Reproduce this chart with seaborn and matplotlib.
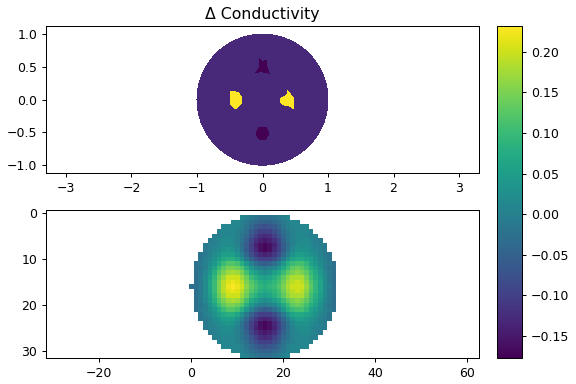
import numpy as np
import matplotlib
matplotlib.use('Agg')
import matplotlib.pyplot as plt
from matplotlib.patches import Circle
import seaborn as sns

# Bottom panel: reconstructed image, one list per row, in units of 0.01
row_index = list(range(1, 32))
first_col = [11, 9, 7, 6, 5, 4, 3, 3, 2, 2, 1, 1, 1, 1, 1, 0,
             1, 1, 1, 1, 1, 2, 2, 3, 3, 4, 5, 6, 7, 9, 11]
cells = [
    [1, 0, -1, -2, -3, -3, -3, -2, -1, 0, 1],
    [1, 1, 0, -1, -3, -4, -5, -5, -5, -4, -3, -1, 0, 1, 1],
    [1, 1, 1, 1, 0, -2, -4, -6, -7, -8, -7, -6, -4, -2, 0, 1, 1, 1, 1],
    [0, 1, 1, 1, 0, -1, -3, -6, -8, -10, -10, -10, -8, -6, -3, -1, 0, 1, 1, 1, 0],
    [0, 0, 1, 1, 1, 0, -2, -4, -7, -10, -12, -13, -12, -10, -7, -4, -2, 0, 1, 1, 1, 0, 0],
    [-1, 0, 1, 2, 2, 1, 0, -2, -5, -9, -12, -14, -15, -14, -12, -9, -5, -2, 0, 1, 2, 2, 1, 0, -1],
    [-1, 0, 0, 1, 2, 2, 2, 0, -3, -6, -10, -14, -16, -17, -16, -14, -10, -6, -3, 0, 2, 2, 2, 1, 0, 0, -1],
    [-1, 0, 1, 2, 3, 4, 3, 1, -2, -6, -10, -13, -16, -17, -16, -13, -10, -6, -2, 1, 3, 3, 3, 2, 1, 0, -1],
    [-2, -1, 0, 2, 3, 5, 5, 5, 3, 0, -4, -8, -11, -13, -14, -13, -11, -8, -4, 0, 3, 5, 5, 4, 3, 2, 0, -1, -2],
    [-2, 0, 1, 3, 5, 7, 8, 8, 6, 3, -1, -5, -8, -10, -10, -10, -8, -5, -1, 3, 6, 7, 7, 6, 5, 3, 1, 0, -2],
    [-3, -1, 0, 2, 4, 7, 10, 12, 12, 11, 8, 4, 0, -3, -5, -6, -5, -3, 0, 4, 8, 10, 11, 11, 9, 6, 4, 2, 0, -1, -3],
    [-3, -2, 0, 3, 6, 10, 13, 15, 15, 14, 12, 8, 4, 1, 0, -1, 0, 1, 4, 7, 10, 13, 14, 13, 11, 8, 6, 3, 0, -2, -3],
    [-3, -1, 1, 4, 8, 12, 15, 17, 18, 17, 15, 11, 7, 5, 3, 2, 3, 5, 7, 10, 13, 15, 16, 15, 13, 10, 7, 4, 1, -1, -3],
    [-3, -1, 2, 5, 9, 14, 17, 20, 20, 20, 17, 14, 10, 8, 6, 5, 6, 8, 10, 13, 16, 18, 18, 18, 15, 11, 8, 5, 2, -1, -3],
    [-3, -1, 2, 6, 10, 15, 19, 21, 22, 21, 19, 15, 12, 10, 8, 7, 8, 9, 11, 14, 17, 19, 20, 19, 16, 12, 9, 6, 2, -1, -3],
    [-3, -3, -1, 2, 6, 10, 15, 19, 22, 23, 22, 20, 16, 13, 11, 9, 8, 9, 10, 12, 15, 18, 20, 20, 20, 17, 13, 9, 6, 2, 0, -3],
    [-3, -1, 2, 6, 10, 15, 19, 21, 22, 21, 19, 15, 12, 10, 8, 7, 8, 9, 11, 14, 17, 19, 20, 19, 16, 12, 9, 6, 2, -1, -3],
    [-3, -1, 2, 5, 9, 14, 17, 20, 20, 20, 17, 14, 10, 8, 6, 5, 6, 8, 10, 13, 16, 18, 18, 18, 15, 11, 8, 5, 2, -1, -3],
    [-3, -1, 1, 4, 8, 12, 15, 17, 18, 17, 15, 11, 7, 5, 3, 2, 3, 5, 7, 10, 13, 15, 16, 15, 13, 10, 7, 4, 1, -1, -3],
    [-3, -2, 0, 3, 6, 10, 13, 15, 15, 14, 12, 8, 4, 1, 0, -1, 0, 1, 4, 7, 10, 13, 14, 13, 11, 8, 6, 3, 0, -2, -3],
    [-3, -1, 0, 2, 4, 7, 10, 12, 12, 11, 8, 4, 0, -3, -5, -6, -5, -3, 0, 4, 8, 10, 11, 11, 9, 6, 4, 2, 0, -1, -3],
    [-2, 0, 1, 3, 5, 7, 8, 8, 6, 3, -1, -5, -8, -10, -10, -10, -8, -5, -1, 3, 6, 7, 7, 6, 5, 3, 1, 0, -2],
    [-2, -1, 0, 2, 3, 5, 5, 5, 3, 0, -4, -8, -11, -13, -14, -13, -11, -8, -4, 0, 3, 5, 5, 4, 3, 2, 0, -1, -2],
    [-1, 0, 1, 2, 3, 4, 3, 1, -2, -6, -10, -13, -16, -17, -16, -13, -10, -6, -2, 1, 3, 3, 3, 2, 1, 0, -1],
    [-1, 0, 0, 1, 2, 2, 2, 0, -3, -6, -10, -14, -16, -17, -16, -14, -10, -6, -3, 0, 2, 2, 2, 1, 0, 0, -1],
    [-1, 0, 1, 2, 2, 1, 0, -2, -5, -9, -12, -14, -15, -14, -12, -9, -5, -2, 0, 1, 2, 2, 1, 0, -1],
    [0, 0, 1, 1, 1, 0, -2, -4, -7, -10, -12, -13, -12, -10, -7, -4, -2, 0, 1, 1, 1, 0, 0],
    [0, 1, 1, 1, 0, -1, -3, -6, -8, -10, -10, -10, -8, -6, -3, -1, 0, 1, 1, 1, 0],
    [1, 1, 1, 1, 0, -2, -4, -6, -7, -8, -7, -6, -4, -2, 0, 1, 1, 1, 1],
    [1, 1, 0, -1, -3, -4, -5, -5, -5, -4, -3, -1, 0, 1, 1],
    [1, 0, -1, -2, -3, -3, -3, -2, -1, 0, 1],
]

# Top panel: conductivity of the disc and the four inclusions
disc_radius = 1.0
disc_value = -0.13
low_value = -0.177
high_value = 0.2316
north_x = [-0.10, -0.05, -0.05, 0.0, 0.055, 0.07, 0.10, -0.015]
north_y = [0.415, 0.48, 0.635, 0.57, 0.60, 0.48, 0.405, 0.43]
south_x = [-0.085, -0.05, 0.05, 0.085, 0.085, 0.045, -0.05, -0.085]
south_y = [-0.486, -0.42, -0.42, -0.486, -0.547, -0.603, -0.603, -0.547]
west_x = [-0.495, -0.385, -0.315, -0.315, -0.415, -0.495]
west_y = [0.125, 0.115, 0.04, -0.055, -0.14, -0.055]
east_x = [0.28, 0.38, 0.38, 0.48, 0.48, 0.41, 0.33, 0.28]
east_y = [0.02, 0.075, 0.14, 0.01, -0.14, -0.095, -0.08, -0.045]

top_xticks = [-3, -2, -1, 0, 1, 2, 3]
top_yticks = [-1.0, -0.5, 0.0, 0.5, 1.0]
bottom_xticks = [-20, 0, 20, 40, 60]
bottom_yticks = [0, 10, 20, 30]
cbar_ticks = [-0.15, -0.10, -0.05, 0.00, 0.05, 0.10, 0.15, 0.20]

grid = np.full((32, 32), np.nan)
for r, c0, vals in zip(row_index, first_col, cells):
    grid[r, c0:c0 + len(vals)] = np.array(vals) / 100

fig = plt.figure(figsize=(6.4, 384 / 90), dpi=90)
ax1 = fig.add_axes([46 / 576, 1 - 173 / 384, 433 / 576, 147 / 384])
ax2 = fig.add_axes([46 / 576, 1 - 358 / 384, 433 / 576, 148 / 384])
cax = fig.add_axes([497 / 576, 1 - 358 / 384, 25 / 576, 332 / 384])

cmap = plt.get_cmap('viridis')
norm = plt.Normalize(low_value, high_value)

# Top panel
ax1.add_patch(Circle((0, 0), disc_radius, color=cmap(norm(disc_value)), antialiased=False, lw=0))
ax1.fill(north_x, north_y, color=cmap(norm(low_value)), antialiased=False, lw=0)
ax1.fill(south_x, south_y, color=cmap(norm(low_value)), antialiased=False, lw=0)
ax1.fill(west_x, west_y, color=cmap(norm(high_value)), antialiased=False, lw=0)
ax1.fill(east_x, east_y, color=cmap(norm(high_value)), antialiased=False, lw=0)
ax1.set_xlim(-3.305, 3.305)
ax1.set_ylim(-1.12, 1.125)
ax1.set_xticks(top_xticks)
ax1.set_yticks(top_yticks)
ax1.set_title('Δ Conductivity', fontsize=12.6)

# Bottom panel
sns.heatmap(grid, mask=np.isnan(grid), cmap='viridis', vmin=low_value, vmax=high_value,
            ax=ax2, cbar_ax=cax, cbar_kws={'ticks': cbar_ticks},
            xticklabels=False, yticklabels=False)
for side in ax2.spines.values():
    side.set_visible(True)
ax2.set_xlim(-31.1, 63.0)
ax2.set_ylim(32, -0.1)
ax2.set_xticks([t + 0.5 for t in bottom_xticks], labels=[str(t).replace('-', '\u2212') for t in bottom_xticks])
ax2.set_yticks([t + 0.5 for t in bottom_yticks], labels=[str(t) for t in bottom_yticks], rotation=0)
ax2.tick_params(length=3.5, width=0.8, labelsize=10)

# Colorbar
cbar = ax2.collections[0].colorbar
cbar.outline.set_linewidth(0.8)
cbar.outline.set_visible(True)
cax.tick_params(length=3.5, width=0.8, labelsize=10)

fig.savefig('out.png', dpi=90)
